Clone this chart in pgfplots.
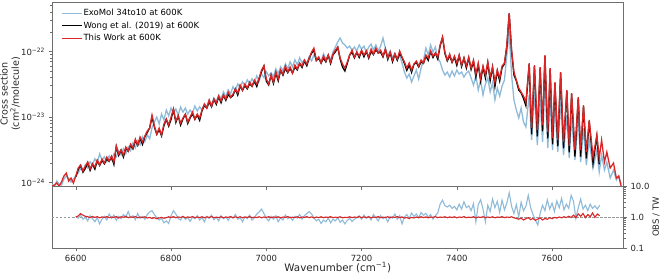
\documentclass[border=0pt]{standalone}
\usepackage{fontspec}
\setmainfont{DejaVu Sans}
\usepackage{pgfplots}
\usepackage{pgfplotstable}
\pgfplotsset{compat=1.18}
\definecolor{exoblue}{RGB}{143,187,217}
\definecolor{twred}{RGB}{218,38,38}
\definecolor{spine}{RGB}{110,110,110}

% columns: wavenumber, ExoMol, Wong et al. (2019), This Work  (cm^2/molecule)
\pgfplotstableread{
w exo wong tw
6550 0.949e-24 nan 0.884e-24
6555 0.853e-24 nan 0.916e-24
6560 1.054e-24 nan 0.983e-24
6565 0.949e-24 nan 0.884e-24
6570 0.916e-24 nan 1.018e-24
6575 1.131e-24 nan 1.256e-24
6580 1.256e-24 nan 1.396e-24
6585 1.171e-24 nan 1.054e-24
6590 1.018e-24 nan 1.171e-24
6595 1.131e-24 nan 0.983e-24
6600 1.267e-24 1.22e-24 1.256e-24
6605 1.408e-24 1.57e-24 1.665e-24
6610 1.622e-24 1.83e-24 1.85e-24
6615 1.511e-24 1.44e-24 1.498e-24
6620 1.866e-24 1.64e-24 1.786e-24
6625 1.679e-24 2.01e-24 2.056e-24
6630 2.074e-24 1.53e-24 1.607e-24
6635 1.866e-24 1.92e-24 1.916e-24
6640 2.304e-24 1.60e-24 1.725e-24
6645 2.002e-24 2.14e-24 2.206e-24
6650 2.745e-24 1.83e-24 1.85e-24
6655 2.224e-24 2.17e-24 2.285e-24
6660 2.472e-24 1.93e-24 1.985e-24
6665 2.074e-24 2.30e-24 2.451e-24
6670 2.561e-24 2.11e-24 2.13e-24
6675 2.224e-24 2.44e-24 2.539e-24
6680 2.745e-24 1.89e-24 2.056e-24
6685 2.472e-24 3.54e-24 3.61e-24
6690 3.055e-24 2.59e-24 2.724e-24
6695 2.651e-24 3.13e-24 3.13e-24
6700 3.271e-24 2.45e-24 2.63e-24
6705 2.745e-24 3.38e-24 3.48e-24
6710 3.516e-24 3.00e-24 3.03e-24
6715 3.055e-24 3.68e-24 3.87e-24
6720 4.042e-24 3.26e-24 3.36e-24
6725 3.393e-24 4.33e-24 4.61e-24
6730 4.333e-24 3.70e-24 3.74e-24
6735 3.769e-24 4.75e-24 4.95e-24
6740 4.991e-24 3.82e-24 4.15e-24
6745 4.192e-24 5.03e-24 5.13e-24
6750 5.358e-24 5.80e-24 6.11e-24
6755 4.653e-24 6.79e-24 6.79e-24
6760 6.853e-24 9.95e-24 10.7e-24
6765 8.39e-24 7.07e-24 7.29e-24
6770 10.0e-24 5.45e-24 5.50e-24
6775 7.82e-24 6.45e-24 6.79e-24
6780 11.1e-24 5.15e-24 5.31e-24
6785 9.00e-24 7.35e-24 7.82e-24
6790 12.8e-24 9.23e-24 9.32e-24
6795 10.4e-24 7.25e-24 7.55e-24
6800 13.7e-24 9.20e-24 10.0e-24
6805 11.5e-24 13.0e-24 13.3e-24
6810 13.3e-24 8.26e-24 8.69e-24
6815 10.7e-24 10.4e-24 10.4e-24
6820 14.2e-24 7.53e-24 8.10e-24
6825 11.9e-24 9.37e-24 9.66e-24
6830 13.7e-24 11.0e-24 11.1e-24
6835 11.1e-24 7.97e-24 8.39e-24
6840 12.8e-24 9.70e-24 10.0e-24
6845 11.5e-24 11.2e-24 11.9e-24
6850 14.7e-24 9.23e-24 9.32e-24
6855 12.4e-24 10.7e-24 11.1e-24
6860 14.3e-24 8.89e-24 9.66e-24
6865 12.9e-24 12.5e-24 12.8e-24
6870 15.9e-24 15.0e-24 15.8e-24
6875 14.3e-24 13.7e-24 13.7e-24
6880 18.3e-24 16.9e-24 18.2e-24
6885 15.4e-24 14.3e-24 14.7e-24
6890 19.6e-24 18.6e-24 18.8e-24
6895 17.1e-24 15.6e-24 16.4e-24
6900 21.8e-24 20.3e-24 20.9e-24
6905 19.0e-24 16.5e-24 17.5e-24
6910 24.3e-24 21.5e-24 21.7e-24
6915 20.4e-24 18.0e-24 18.8e-24
6920 26.0e-24 22.2e-24 24.1e-24
6925 22.7e-24 19.8e-24 20.2e-24
6930 29.0e-24 21.3e-24 22.4e-24
6935 25.2e-24 26.8e-24 26.8e-24
6940 32.1e-24 21.6e-24 23.2e-24
6945 27.9e-24 29.9e-24 30.8e-24
6950 34.5e-24 25.5e-24 25.8e-24
6955 30.0e-24 30.3e-24 31.9e-24
6960 37.0e-24 26.9e-24 27.7e-24
6965 32.1e-24 32.1e-24 34.2e-24
6970 38.4e-24 29.4e-24 29.7e-24
6975 33.3e-24 35.2e-24 36.7e-24
6980 42.6e-24 29.3e-24 31.9e-24
6985 35.7e-24 38.6e-24 39.4e-24
6990 45.7e-24 49.6e-24 52.2e-24
6995 39.8e-24 60.1e-24 60.1e-24
7000 49.1e-24 35.3e-24 38.0e-24
7005 42.6e-24 30.9e-24 31.9e-24
7010 47.4e-24 43.4e-24 43.8e-24
7015 41.2e-24 32.5e-24 34.2e-24
7020 54.5e-24 47.1e-24 48.6e-24
7025 45.7e-24 35.7e-24 38.0e-24
7030 58.5e-24 51.7e-24 52.2e-24
7035 50.8e-24 43.5e-24 45.3e-24
7040 65.0e-24 55.3e-24 60.1e-24
7045 54.5e-24 47.6e-24 48.6e-24
7050 69.7e-24 55.1e-24 58.0e-24
7055 58.5e-24 46.9e-24 46.9e-24
7060 74.8e-24 57.8e-24 62.2e-24
7065 62.7e-24 52.4e-24 54.0e-24
7070 80.2e-24 66.0e-24 66.7e-24
7075 67.3e-24 57.1e-24 60.1e-24
7080 74.8e-24 72.0e-24 74.2e-24
7085 65.0e-24 60.5e-24 64.4e-24
7090 83.1e-24 78.8e-24 79.6e-24
7095 72.2e-24 94.3e-24 98.2e-24
7100 89.1e-24 104e-24 113e-24
7105 74.8e-24 72.7e-24 74.2e-24
7110 83.1e-24 78.3e-24 82.4e-24
7115 69.7e-24 66.7e-24 66.7e-24
7120 92.3e-24 79.3e-24 85.3e-24
7125 77.5e-24 69.5e-24 71.6e-24
7130 86.1e-24 87.5e-24 88.4e-24
7135 74.8e-24 65.6e-24 69.1e-24
7140 98.7e-24 88.9e-24 91.6e-24
7145 117e-24 98.7e-24 105e-24
7150 140e-24 116e-24 117e-24
7155 161e-24 76.4e-24 79.6e-24
7160 135e-24 58.0e-24 64.4e-24
7165 126e-24 50.4e-24 56.0e-24
7170 113e-24 65.6e-24 69.1e-24
7175 121e-24 88.4e-24 88.4e-24
7180 105e-24 97.7e-24 105e-24
7185 117e-24 79.9e-24 82.4e-24
7190 102e-24 97.2e-24 98.2e-24
7195 126e-24 81.0e-24 85.3e-24
7200 109e-24 102e-24 105e-24
7205 121e-24 83.1e-24 88.4e-24
7210 98.2e-24 101e-24 102e-24
7215 117e-24 79.1e-24 82.4e-24
7220 130e-24 100e-24 109e-24
7225 105e-24 89.8e-24 91.6e-24
7230 126e-24 107e-24 113e-24
7235 102e-24 94.8e-24 94.8e-24
7240 121e-24 97.7e-24 105e-24
7245 161e-24 82.7e-24 85.3e-24
7250 113e-24 108e-24 109e-24
7255 85.3e-24 75.6e-24 79.6e-24
7260 102e-24 95.3e-24 98.2e-24
7265 79.6e-24 69.7e-24 74.2e-24
7270 94.8e-24 90.7e-24 91.6e-24
7275 74.2e-24 73.7e-24 76.8e-24
7280 88.4e-24 93.8e-24 102e-24
7285 66.7e-24 80.8e-24 82.4e-24
7290 48.6e-24 65.6e-24 69.1e-24
7295 39.4e-24 51.5e-24 56.0e-24
7300 45.3e-24 62.0e-24 66.7e-24
7305 34.2e-24 48.0e-24 52.2e-24
7310 42.3e-24 63.8e-24 64.4e-24
7315 52.2e-24 68.0e-24 71.6e-24
7320 38.0e-24 58.3e-24 60.1e-24
7325 56.0e-24 69.7e-24 74.2e-24
7330 74.2e-24 66.0e-24 66.7e-24
7335 113e-24 84.9e-24 88.4e-24
7340 88.4e-24 73.2e-24 79.6e-24
7345 126e-24 100e-24 102e-24
7350 98.2e-24 81.0e-24 85.3e-24
7355 117e-24 94.8e-24 94.8e-24
7360 79.6e-24 76.6e-24 82.4e-24
7365 69.1e-24 122e-24 126e-24
7370 52.2e-24 164e-24 166e-24
7375 43.8e-24 93.3e-24 98.2e-24
7380 48.6e-24 72.0e-24 74.2e-24
7385 40.8e-24 86.1e-24 91.6e-24
7390 50.4e-24 68.4e-24 69.1e-24
7395 42.3e-24 81.9e-24 85.3e-24
7400 52.2e-24 61.4e-24 66.7e-24
7405 45.3e-24 86.6e-24 88.4e-24
7410 48.6e-24 59.1e-24 62.2e-24
7415 40.8e-24 79.6e-24 79.6e-24
7420 46.9e-24 55.9e-24 60.1e-24
7425 50.4e-24 79.9e-24 82.4e-24
7430 39.4e-24 53.2e-24 56.0e-24
7435 30.8e-24 70.5e-24 74.2e-24
7440 42.3e-24 40.8e-24 45.3e-24
7445 25.8e-24 62.7e-24 66.7e-24
7450 36.7e-24 35.5e-24 39.4e-24
7455 21.7e-24 57.7e-24 60.1e-24
7460 31.9e-24 39.4e-24 43.8e-24
7465 39.4e-24 67.7e-24 69.1e-24
7470 24.1e-24 35.9e-24 40.8e-24
7475 33.0e-24 58.0e-24 58.0e-24
7480 18.2e-24 29.1e-24 34.2e-24
7485 27.7e-24 50.6e-24 52.2e-24
7490 20.9e-24 35.5e-24 39.4e-24
7495 29.7e-24 57.1e-24 60.1e-24
7500 36.7e-24 64.7e-24 66.7e-24
7505 88.4e-24 118e-24 126e-24
7510 199e-24 383e-24 387e-24
7515 43.8e-24 101e-24 105e-24
7520 18.2e-24 43.7e-24 48.6e-24
7525 12.8e-24 35.6e-24 36.7e-24
7530 9.66e-24 25.8e-24 27.7e-24
7535 13.7e-24 23.4e-24 24.1e-24
7540 8.39e-24 19.2e-24 20.9e-24
7545 7.04e-24 14.9e-24 16.9e-24
7552 21.7e-24 64.0e-24 66.7e-24
7557 4.46e-24 5.43e-24 6.79e-24
7563 24.1e-24 59.7e-24 62.2e-24
7569 3.74e-24 5.06e-24 6.33e-24
7575 18.2e-24 55.7e-24 58.0e-24
7580 4.15e-24 6.04e-24 7.55e-24
7585 30.8e-24 84.9e-24 88.4e-24
7591 3.36e-24 4.72e-24 5.90e-24
7596 18.2e-24 53.8e-24 56.0e-24
7601 3.13e-24 3.82e-24 4.78e-24
7606 13.7e-24 32.8e-24 34.2e-24
7612 2.92e-24 3.57e-24 4.46e-24
7618 18.2e-24 46.7e-24 48.6e-24
7624 2.63e-24 3.32e-24 4.15e-24
7631 10.7e-24 24.8e-24 25.8e-24
7636 2.366e-24 2.89e-24 3.61e-24
7641 9.66e-24 22.3e-24 23.2e-24
7648 2.206e-24 2.50e-24 3.13e-24
7655 9.00e-24 19.4e-24 20.2e-24
7660 2.056e-24 2.50e-24 3.13e-24
7666 6.79e-24 14.6e-24 15.2e-24
7672 1.850e-24 2.34e-24 2.92e-24
7678 4.46e-24 8.64e-24 9.00e-24
7686 1.665e-24 1.96e-24 2.451e-24
7694 3.13e-24 5.10e-24 5.31e-24
7699 1.446e-24 1.89e-24 2.366e-24
7704 2.63e-24 nan 4.46e-24
7710 1.552e-24 nan 2.056e-24
7715 2.056e-24 nan 2.92e-24
7722 1.171e-24 nan 1.665e-24
7729 1.552e-24 nan 1.985e-24
7735 1.092e-24 nan 1.171e-24
7740 1.256e-24 nan 1.256e-24
7745 0.949e-24 nan 0.884e-24
7750 nan nan 0.80e-24
}\spectra

% ratio table: wavenumber, ExoMol ratio, Wong ratio
\pgfplotstableread{
w rexo rtw
6600 1.05 1.00
6605 0.92 1.08
6610 1.15 1.28
6615 0.85 1.15
6620 0.98 1.05
6625 0.75 1.02
6630 1.10 0.96
6635 0.88 1.04
6640 0.70 0.97
6645 0.95 1.03
6650 0.60 0.94
6655 0.85 1.01
6660 1.05 0.97
6665 0.80 1.03
6670 1.25 0.95
6675 0.90 1.00
6680 1.15 0.96
6685 0.78 1.04
6690 1.05 0.93
6695 0.88 1.02
6700 1.20 0.98
6705 1.00 1.05
6710 1.50 0.95
6715 0.95 1.01
6720 1.10 0.97
6725 0.82 1.03
6730 1.30 0.94
6735 0.90 1.00
6740 1.05 0.96
6745 0.85 1.02
6750 1.20 0.92
6755 1.45 0.97
6760 1.60 0.90
6765 1.20 0.95
6770 0.95 0.88
6775 0.80 0.93
6780 0.90 0.97
6785 0.65 0.91
6790 0.75 0.95
6795 0.62 1.02
6800 1.10 0.96
6805 1.60 1.03
6810 1.25 0.95
6815 0.90 1.00
6820 0.80 0.97
6825 1.05 1.04
6830 0.85 0.94
6835 0.95 1.01
6840 0.72 0.97
6845 1.00 1.03
6850 0.88 0.95
6855 1.10 1.00
6860 0.80 0.96
6865 0.95 1.02
6870 0.70 0.94
6875 1.05 1.01
6880 0.90 0.97
6885 1.15 1.03
6890 0.82 0.95
6895 0.98 0.99
6900 0.75 0.96
6905 1.10 1.02
6910 0.88 0.94
6915 1.00 1.00
6920 0.78 0.97
6925 1.05 1.03
6930 0.92 0.95
6935 1.20 1.01
6940 0.85 0.96
6945 0.95 1.02
6950 0.70 0.94
6955 1.02 1.00
6960 0.88 0.97
6965 1.15 1.03
6970 0.80 0.95
6975 0.95 0.99
6980 1.25 0.96
6985 1.45 1.02
6990 1.80 0.94
6995 1.30 1.00
7000 0.90 0.97
7005 0.75 1.03
7010 1.05 0.95
7015 0.85 1.01
7020 1.10 0.96
7025 0.70 1.02
7030 0.95 0.94
7035 0.80 1.00
7040 1.15 0.97
7045 0.88 1.03
7050 1.00 0.95
7055 0.78 0.99
7060 1.05 0.96
7065 0.92 1.02
7070 1.20 0.94
7075 0.85 1.00
7080 1.10 0.97
7085 1.30 1.03
7090 1.50 0.95
7095 1.25 1.01
7100 0.95 0.93
7105 0.75 1.00
7110 0.85 0.96
7115 0.62 1.02
7120 0.80 0.95
7125 0.70 1.00
7130 0.92 0.97
7135 0.65 1.03
7140 0.85 0.95
7145 0.75 0.99
7150 0.95 0.96
7155 0.68 1.02
7160 0.80 0.94
7165 0.60 0.98
7170 0.78 0.96
7175 0.90 1.02
7180 0.72 0.95
7185 0.85 1.00
7190 0.95 0.97
7195 1.10 1.03
7200 0.85 0.95
7205 1.15 1.01
7210 0.90 0.96
7215 1.05 1.02
7220 0.80 0.94
7225 1.20 1.00
7230 0.95 0.97
7235 0.75 1.03
7240 1.10 0.95
7245 0.88 0.99
7250 1.00 0.96
7255 0.70 1.02
7260 1.05 0.94
7265 0.92 1.00
7270 1.25 0.97
7275 0.85 1.03
7280 1.10 0.95
7285 0.60 1.01
7290 1.00 0.92
7295 1.20 0.96
7300 0.90 0.90
7305 1.35 0.97
7310 1.05 0.93
7315 1.25 1.00
7320 0.95 0.95
7325 1.40 1.02
7330 1.15 0.96
7335 1.30 1.01
7340 1.00 0.94
7345 1.20 1.00
7350 0.85 0.97
7355 1.10 1.03
7360 1.35 0.95
7365 2.60 1.00
7370 3.50 0.97
7375 2.30 1.02
7380 2.10 0.95
7385 2.40 1.01
7390 1.90 0.96
7395 2.20 1.02
7400 1.70 0.94
7405 2.60 1.00
7410 1.80 0.97
7415 3.10 1.03
7420 2.00 0.95
7425 2.30 0.99
7430 1.60 0.96
7435 2.70 1.02
7440 0.70 0.94
7445 2.50 1.00
7450 3.60 0.97
7455 1.80 1.02
7460 0.70 0.95
7465 2.40 1.00
7470 1.50 0.96
7475 3.80 1.02
7480 2.00 0.94
7485 3.20 1.00
7490 1.40 0.97
7495 3.50 1.03
7500 1.70 0.95
7505 2.80 1.00
7510 6.00 0.97
7515 2.20 1.02
7520 1.30 0.94
7525 2.50 0.90
7530 1.00 0.85
7535 3.00 0.92
7540 1.60 0.80
7545 2.20 0.88
7550 5.00 0.95
7555 2.00 0.82
7560 1.20 0.90
7565 0.80 0.78
7570 0.55 0.86
7575 1.30 0.93
7580 2.40 0.80
7585 1.60 0.90
7590 3.60 0.84
7595 1.80 0.95
7600 2.80 0.88
7605 1.50 0.97
7610 3.30 0.92
7615 2.00 1.00
7620 4.00 0.94
7625 1.70 1.02
7630 2.60 0.96
7635 1.90 1.05
7640 5.00 0.97
7645 3.20 1.15
7650 0.90 0.95
7655 2.00 1.25
7660 3.80 1.05
7665 1.80 1.30
7670 2.40 0.95
7675 1.60 1.20
7680 2.60 1.02
7685 1.90 1.35
7690 2.30 0.98
7695 1.80 1.25
7700 2.40 1.10
}\ratios

\pgfplotsset{
  every axis/.append style={
    font=\fontsize{8.5pt}{10pt}\selectfont,
    axis line style={spine, line width=0.7pt},
    tick style={spine, line width=0.6pt},
    tick align=outside,
    major tick length=3.5pt,
    minor tick length=2pt,
    ticklabel style={text=black!85},
    label style={text=black!85},
  },
}

\begin{document}
\begin{tikzpicture}[font=\fontsize{8.5pt}{10pt}\selectfont]
\useasboundingbox (-52pt,-25pt) rectangle (616pt,248pt);

% ---------------- top panel ----------------
\begin{axis}[
  at={(0pt,62pt)}, anchor=south west,
  scale only axis, width=571.5pt, height=184pt,
  xmin=6550, xmax=7750,
  ymode=log, ymin=8.85e-25, ymax=5.7e-22,
  xtick={6600,6800,7000,7200,7400,7600}, xticklabels={},
  xtick pos=bottom, ytick pos=left,
  ytick={1e-24,1e-23,1e-22},
  yticklabels={10\textsuperscript{−24},10\textsuperscript{−23},10\textsuperscript{−22}},
  minor ytick={2e-24,3e-24,4e-24,5e-24,6e-24,7e-24,8e-24,9e-24,
               2e-23,3e-23,4e-23,5e-23,6e-23,7e-23,8e-23,9e-23,
               2e-22,3e-22,4e-22,5e-22},
  ylabel={Cross section\\(cm\textsuperscript{2}/molecule)},
  ylabel style={align=center, font=\fontsize{9.6pt}{11.2pt}\selectfont,
    at={(axis description cs:-0.073,0.5)}, anchor=center},
  unbounded coords=jump,
  clip=true,
  legend style={at={(0,1)}, anchor=north west, xshift=6pt, yshift=-4pt,
    draw=none, fill=none, row sep=2.5pt,
    nodes={inner sep=1pt, text height=6.5pt, text depth=1.5pt}},
  legend cell align=left,
  legend image code/.code={\draw[#1] (0pt,0pt) -- (20pt,0pt);},
]
\addplot[exoblue, line width=1.3pt] table[x=w, y=exo] {\spectra};
\addlegendentry{ExoMol 34to10 at 600K}
\addplot[black, line width=1.3pt] table[x=w, y=wong] {\spectra};
\addlegendentry{Wong et al. (2019) at 600K}
\addplot[twred, line width=1.3pt] table[x=w, y=tw] {\spectra};
\addlegendentry{This Work at 600K}
\end{axis}

% ---------------- ratio panel ----------------
\begin{axis}[
  at={(0pt,0pt)}, anchor=south west,
  scale only axis, width=571.5pt, height=62pt,
  xmin=6550, xmax=7750,
  ymode=log, ymin=0.1, ymax=10,
  xtick={6600,6800,7000,7200,7400,7600},
  xticklabels={6600,6800,7000,7200,7400,7600},
  xtick pos=bottom, ytick pos=right, yticklabel pos=right,
  ytick={0.1,1,10}, yticklabels={0.1,1.0,10.0},
  minor ytick={0.2,0.3,0.4,0.5,0.6,0.7,0.8,0.9,2,3,4,5,6,7,8,9},
  xlabel={Wavenumber (cm\textsuperscript{−1})},
  xlabel style={font=\fontsize{10.3pt}{12pt}\selectfont,
    at={(axis description cs:0.5,-0.32)}, anchor=center},
  ylabel={OBS / TW},
  ylabel style={at={(axis description cs:1.057,0.5)}, anchor=center},
  clip=true,
]
\addplot[black!40, dash pattern=on 2.5pt off 1.5pt, line width=0.5pt] coordinates {(6550,1) (7750,1)};
\addplot[exoblue, line width=1.1pt] table[x=w, y=rexo] {\ratios};
\addplot[twred, line width=1.1pt] table[x=w, y=rtw] {\ratios};
\end{axis}
\end{tikzpicture}
\end{document}
